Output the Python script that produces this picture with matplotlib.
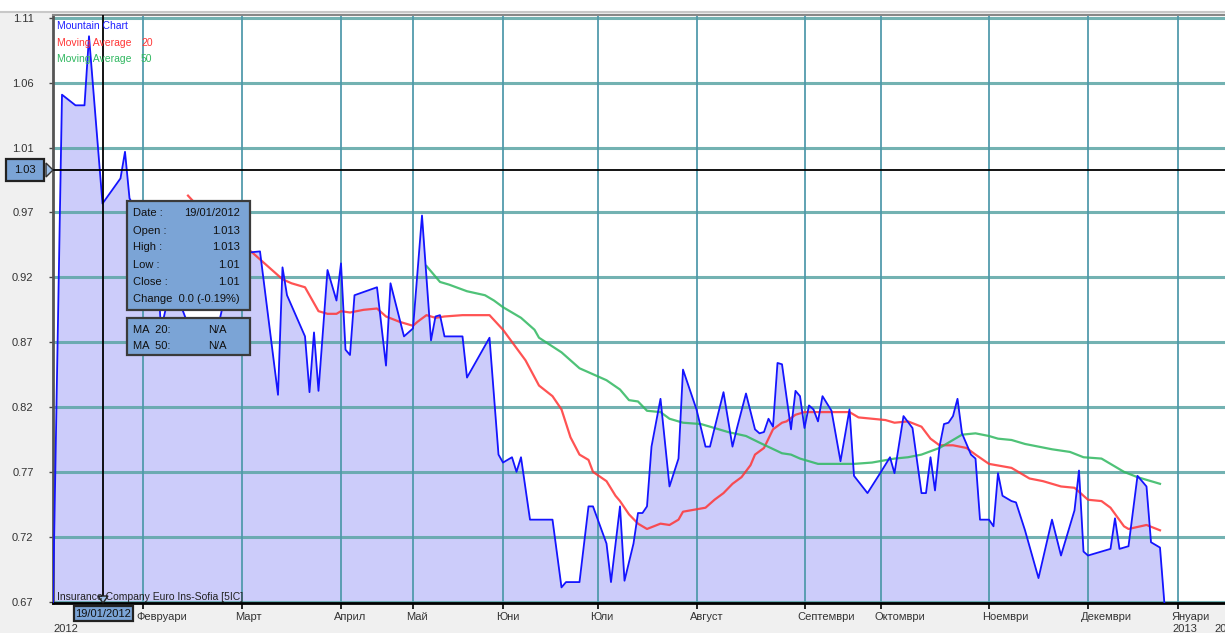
import matplotlib.pyplot as plt
from matplotlib.patches import Rectangle, Polygon
from matplotlib.transforms import blended_transform_factory, offset_copy

plt.rcParams['font.family'] = ['Liberation Sans', 'DejaVu Sans']

W, H = 1225, 633

# trading-day index and close price (vertices of the mountain line)
price_day = [0, 2, 5, 7, 8, 11, 15, 16, 17, 19,
             22, 23, 24, 26, 28, 30, 34, 36, 38, 40,
             43, 46, 50, 51, 52, 56, 57, 58, 59, 61,
             63, 64, 65, 66, 67, 72, 74, 75, 78, 80,
             82, 84, 85, 86, 87, 91, 92, 97, 99, 100,
             102, 103, 104, 106, 111, 113, 114, 117, 119, 120,
             123, 124, 126, 127, 129, 130, 131, 132, 133, 135,
             137, 139, 140, 143, 145, 146, 149, 151, 152, 154,
             156, 157, 158, 159, 160, 161, 162, 164, 165, 166,
             167, 168, 169, 170, 171, 173, 175, 177, 178, 181,
             184, 186, 187, 189, 191, 193, 194, 195, 196, 197,
             198, 199, 200, 201, 202, 204, 205, 206, 208, 209,
             210, 211, 213, 214, 216, 219, 222, 224, 227, 228,
             229, 230, 235, 236, 237, 239, 241, 243, 244, 246,
             247]
price = [0.670, 1.052, 1.044, 1.044, 1.096, 0.970, 0.989, 1.009, 0.974, 0.961,
         0.946, 0.935, 0.875, 0.905, 0.897, 0.879, 0.871, 0.867, 0.897, 0.924,
         0.933, 0.934, 0.826, 0.922, 0.901, 0.870, 0.828, 0.873, 0.829, 0.920,
         0.897, 0.925, 0.860, 0.856, 0.901, 0.907, 0.848, 0.910, 0.870, 0.876,
         0.961, 0.867, 0.885, 0.886, 0.870, 0.870, 0.839, 0.869, 0.781, 0.775,
         0.779, 0.768, 0.779, 0.732, 0.732, 0.681, 0.685, 0.685, 0.742, 0.742,
         0.714, 0.685, 0.742, 0.686, 0.714, 0.737, 0.737, 0.742, 0.787, 0.823,
         0.757, 0.778, 0.845, 0.815, 0.787, 0.787, 0.828, 0.787, 0.801, 0.827,
         0.800, 0.797, 0.798, 0.808, 0.802, 0.850, 0.849, 0.800, 0.829, 0.825,
         0.801, 0.818, 0.815, 0.806, 0.825, 0.814, 0.776, 0.815, 0.765, 0.752,
         0.768, 0.779, 0.767, 0.810, 0.801, 0.752, 0.752, 0.779, 0.754, 0.787,
         0.804, 0.805, 0.810, 0.823, 0.797, 0.781, 0.778, 0.732, 0.732, 0.727,
         0.767, 0.750, 0.746, 0.745, 0.724, 0.688, 0.732, 0.705, 0.739, 0.769,
         0.708, 0.705, 0.710, 0.733, 0.710, 0.712, 0.765, 0.757, 0.715, 0.711,
         0.668]

ma20_day = [30, 36, 40, 44, 47, 51, 53, 56, 59, 61,
            63, 64, 66, 69, 72, 74, 77, 80, 81, 83,
            85, 87, 91, 97, 100, 105, 108, 111, 113, 115,
            117, 119, 120, 123, 125, 126, 128, 130, 132, 135,
            137, 139, 140, 145, 147, 149, 151, 153, 155, 156,
            158, 160, 162, 163, 165, 167, 170, 177, 179, 182,
            185, 187, 190, 193, 195, 197, 200, 203, 205, 208,
            213, 217, 220, 224, 227, 230, 233, 235, 238, 239,
            243, 246]
ma20 = [0.976, 0.954, 0.939, 0.934, 0.925, 0.913, 0.910, 0.907, 0.889, 0.887,
        0.887, 0.889, 0.888, 0.890, 0.891, 0.885, 0.881, 0.878, 0.881, 0.886,
        0.884, 0.885, 0.886, 0.886, 0.875, 0.852, 0.833, 0.825, 0.815, 0.794,
        0.781, 0.777, 0.768, 0.761, 0.750, 0.746, 0.736, 0.729, 0.725, 0.729,
        0.728, 0.732, 0.738, 0.741, 0.747, 0.752, 0.759, 0.764, 0.773, 0.781,
        0.786, 0.800, 0.805, 0.806, 0.811, 0.813, 0.813, 0.813, 0.809, 0.808,
        0.807, 0.805, 0.806, 0.802, 0.793, 0.788, 0.788, 0.786, 0.781, 0.774,
        0.771, 0.763, 0.761, 0.757, 0.756, 0.747, 0.746, 0.741, 0.727, 0.725,
        0.728, 0.724]

ma50_day = [83, 86, 88, 92, 96, 98, 100, 104, 107, 108,
            113, 117, 121, 123, 126, 128, 130, 132, 135, 137,
            140, 144, 147, 150, 154, 157, 162, 164, 166, 170,
            178, 182, 187, 190, 193, 197, 202, 205, 208, 210,
            213, 216, 222, 226, 229, 233, 235, 238, 241, 244,
            246]
ma50 = [0.923, 0.911, 0.909, 0.904, 0.901, 0.897, 0.892, 0.884, 0.875, 0.869,
        0.858, 0.846, 0.840, 0.837, 0.830, 0.822, 0.821, 0.814, 0.813, 0.808,
        0.805, 0.804, 0.801, 0.798, 0.795, 0.790, 0.782, 0.781, 0.778, 0.774,
        0.774, 0.775, 0.778, 0.779, 0.781, 0.786, 0.796, 0.797, 0.795, 0.793,
        0.792, 0.789, 0.785, 0.783, 0.779, 0.778, 0.774, 0.768, 0.764, 0.761,
        0.759]

month_day = [20, 42, 64, 80, 100, 121, 143, 167, 184, 208, 230, 250]
month_names = ['Февруари', 'Март', 'Април', 'Май', 'Юни', 'Юли', 'Август',
               'Септември', 'Октомври', 'Ноември', 'Декември', 'Януари']

y_ticks = [0.67, 0.7189, 0.7678, 0.8167, 0.8656, 0.9144, 0.9633, 1.0122, 1.0611, 1.11]
y_labels = ['0.67', '0.72', '0.77', '0.82', '0.87', '0.92', '0.97', '1.01', '1.06', '1.11']

cursor_day = 11
cursor_price = 0.9953
cursor_price_label = '1.03'
cursor_date = '19/01/2012'

tip_rows = ['Date :', 'Open :', 'High :', 'Low :', 'Close :', 'Change  0.0 (-0.19%)']
tip_vals = ['19/01/2012', '1.013', '1.013', '1.01', '1.01', '']
ma_rows = ['MA  20:', 'MA  50:']
ma_vals = ['N/A', 'N/A']

box_col = '#7ba4d6'


def fx(px):
    return px / W


def fy(py):
    return 1 - py / H


fig = plt.figure(figsize=(W / 100, H / 100), dpi=100, facecolor='#f0f0f0')
fig.patches.append(Rectangle((0, fy(11)), 1, 1 - fy(11), transform=fig.transFigure,
                             facecolor='white', edgecolor='none', zorder=-1))
fig.lines.append(plt.Line2D([0, 1], [fy(12), fy(12)], transform=fig.transFigure,
                            color='#c8c8c8', lw=1.5))

ax = fig.add_axes([fx(53), fy(603), fx(1225) - fx(53), fy(15) - fy(603)])
ax.set_facecolor('white')
ymin = 0.67 - 0.00075
ymax = 0.67 + 587 * 0.000753
ax.set_xlim(0, (1225 - 53) / 4.5)
ax.set_ylim(ymin, ymax)

ax.fill_between(price_day, price, ymin, color='#ccccfa', lw=0, zorder=1)
for v in y_ticks:
    ax.axhline(v, color='#5aa5a5', lw=2.2, alpha=0.85, zorder=2)
for d in month_day:
    ax.axvline(d, color='#4e98aa', lw=1.4, alpha=0.9, zorder=2)

ax.plot(ma20_day, ma20, color='#ff3535', lw=1.6, alpha=0.85, zorder=3)
ax.plot(ma50_day, ma50, color='#30b860', lw=1.6, alpha=0.85, zorder=3)
ax.plot(price_day, price, color='#1414ff', lw=1.3, zorder=4)

ax.axvline(cursor_day, color='black', lw=1.3, zorder=5)
ax.axhline(cursor_price, color='black', lw=1.3, zorder=5)

ax.spines['right'].set_visible(False)
ax.spines['left'].set_color('#555555')
ax.spines['left'].set_linewidth(2)
ax.spines['bottom'].set_color('black')
ax.spines['bottom'].set_linewidth(2)
ax.spines['top'].set_color('#888888')
ax.spines['top'].set_linewidth(1.5)

ax.set_yticks(y_ticks, y_labels)
ax.tick_params(axis='y', length=3, width=1, color='#444444', labelsize=8,
               labelcolor='#333333', pad=11)
ax.set_xticks(month_day, [''] * len(month_day))
ax.tick_params(axis='x', length=4, width=1.2, color='black')

trans = offset_copy(blended_transform_factory(ax.transData, fig.transFigure),
                    fig=fig, x=-5, y=0, units='points')
for d, name in zip(month_day, month_names):
    ax.text(d, fy(617), name, transform=trans, fontsize=8, color='#333333',
            ha='left', va='center', clip_on=False)

fig.text(fx(53), fy(629), '2012', fontsize=8, color='#333333', va='center')
fig.text(fx(1172), fy(629), '2013', fontsize=8, color='#333333', va='center')
fig.text(fx(1214), fy(629), '2013', fontsize=8, color='#333333', va='center')

# legend text
fig.text(fx(57), fy(26), 'Mountain Chart', color='#2020ff', fontsize=7.5, va='center', zorder=11)
fig.text(fx(57), fy(42.5), 'Moving Average', color='#ff3535', fontsize=7.5, va='center', zorder=11)
fig.text(fx(141), fy(42.5), '20', color='#ff3535', fontsize=7.5, va='center', zorder=11)
fig.text(fx(57), fy(59), 'Moving Average', color='#30b860', fontsize=7.5, va='center', zorder=11)
fig.text(fx(141), fy(59), '50', color='#30b860', fontsize=7.5, va='center', zorder=11)

fig.text(fx(57), fy(597), 'Insurance Company Euro Ins-Sofia [5IC]', color='#222222',
         fontsize=7.5, va='center', zorder=11)


def box(x0, y0, x1, y1, edge='#3a3a3a'):
    fig.patches.append(Rectangle((fx(x0), fy(y1)), fx(x1) - fx(x0), fy(y0) - fy(y1),
                                 transform=fig.transFigure, facecolor=box_col,
                                 edgecolor=edge, lw=1.6, zorder=10))


# tooltip
box(127, 201, 250, 310)
row_y = [213, 231, 247, 265, 282, 299]
for yy, lab, val in zip(row_y, tip_rows, tip_vals):
    fig.text(fx(133), fy(yy), lab, fontsize=8, color='#111111', va='center', zorder=11)
    fig.text(fx(240), fy(yy), val, fontsize=8, color='#111111', va='center', ha='right', zorder=11)
box(127, 318, 250, 355)
for yy, lab, val in zip([330, 346], ma_rows, ma_vals):
    fig.text(fx(133), fy(yy), lab, fontsize=8, color='#111111', va='center', zorder=11)
    fig.text(fx(208), fy(yy), val, fontsize=8, color='#111111', va='center', zorder=11)

# cursor labels
box(6, 159, 44, 181, edge='#222222')
fig.text(fx(25), fy(170), cursor_price_label, fontsize=8, color='#111111',
         ha='center', va='center', zorder=11)
fig.patches.append(Polygon([(fx(46), fy(163)), (fx(46), fy(177)), (fx(53), fy(170))],
                           closed=True, transform=fig.transFigure, facecolor='#9ec0e8',
                           edgecolor='#333333', lw=1, zorder=10))

box(74, 606, 133, 621, edge='#222222')
fig.text(fx(103.5), fy(614), cursor_date, fontsize=8, color='#111111',
         ha='center', va='center', zorder=11)
fig.patches.append(Polygon([(fx(98), fy(596)), (fx(108), fy(596)), (fx(103), fy(603))],
                           closed=True, transform=fig.transFigure, facecolor='#9ec0e8',
                           edgecolor='#222222', lw=1, zorder=10))

fig.savefig('out.png', dpi=100, facecolor=fig.get_facecolor())
